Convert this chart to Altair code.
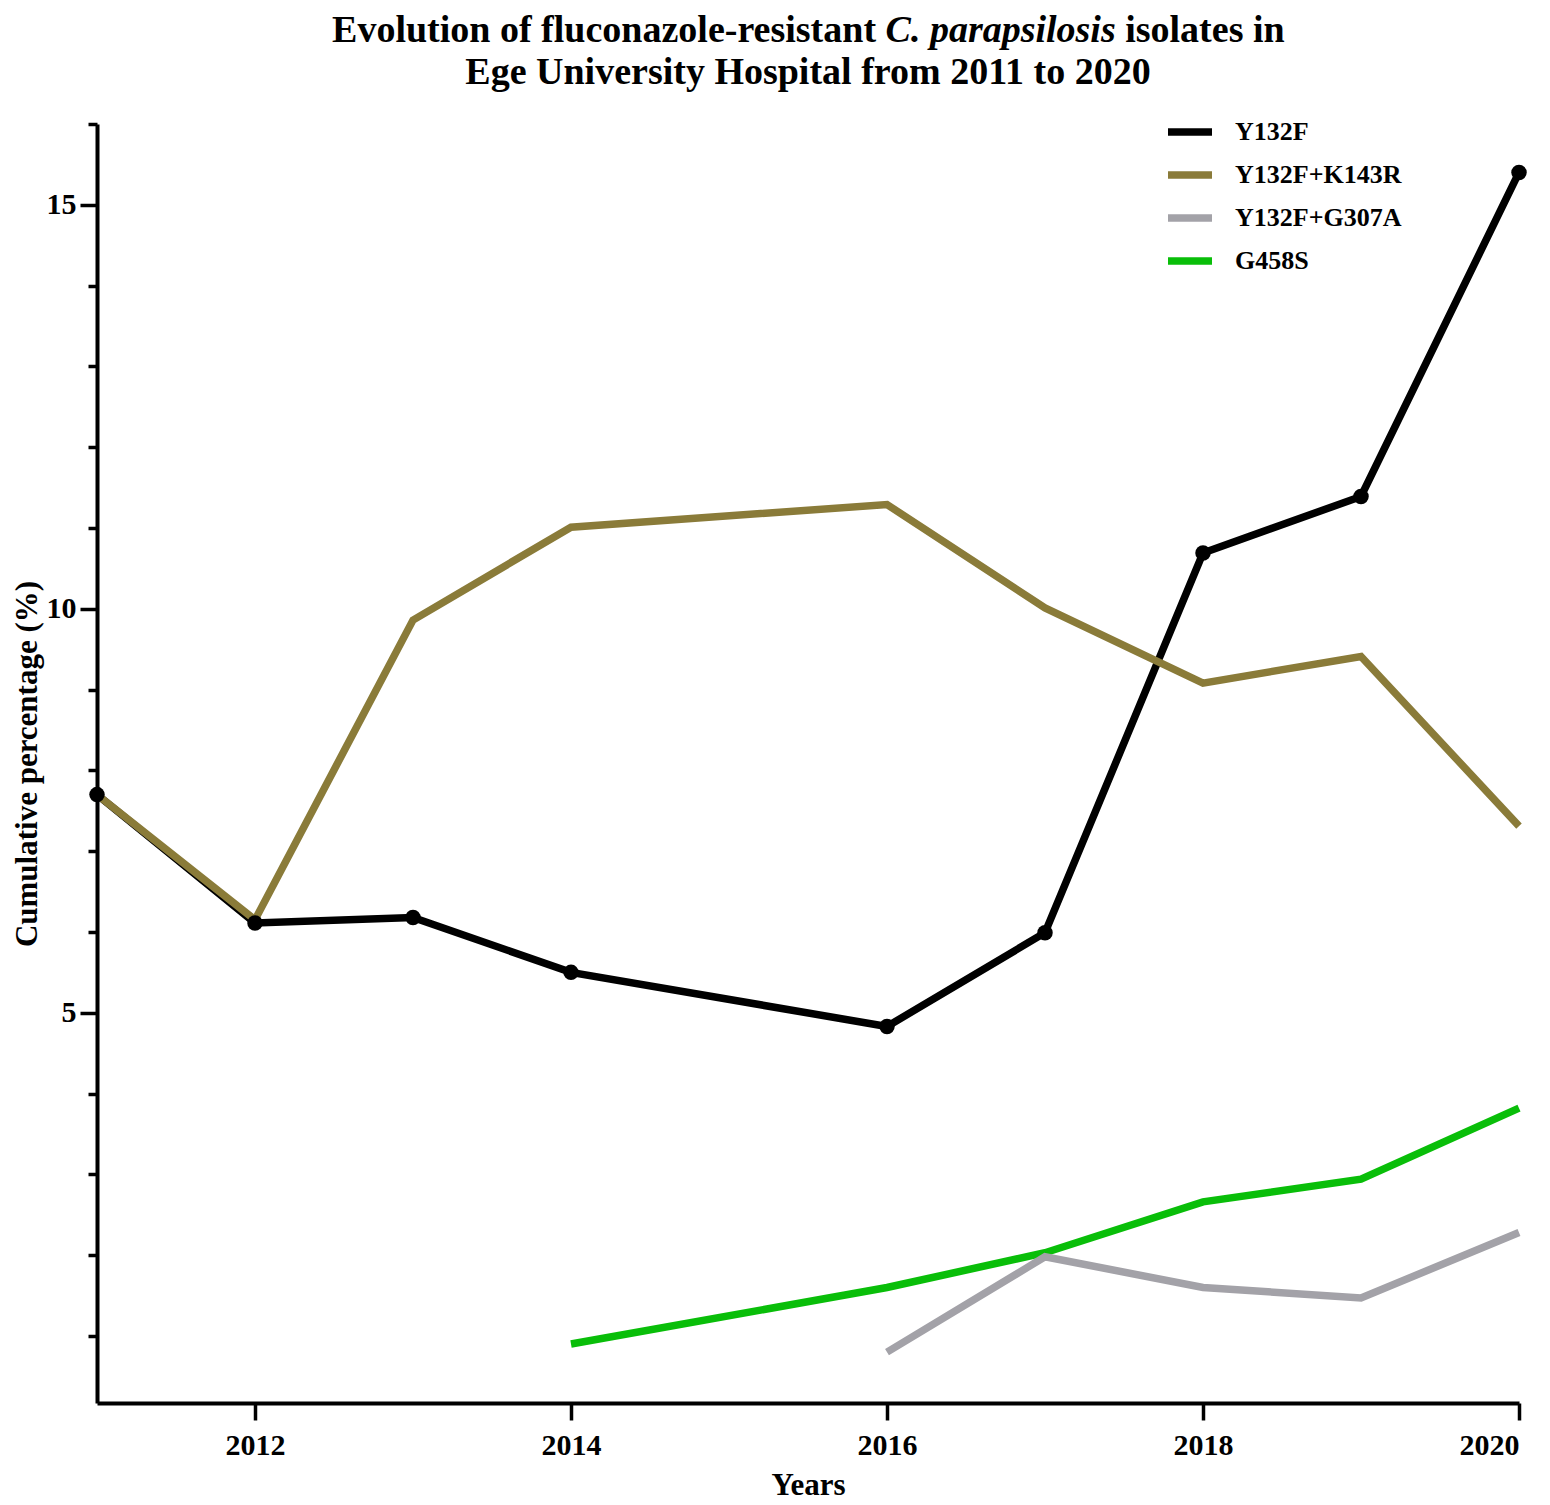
import altair as alt
import pandas as pd

years = [2011, 2012, 2013, 2014, 2016, 2017, 2018, 2019, 2020]
y132f = [7.70, 6.11, 6.18, 5.50, 4.83, 5.99, 10.69, 11.39, 15.40]
k143r = [7.70, 6.15, 9.86, 11.01, 11.29, 10.01, 9.08, 9.41, 7.31]
g307a_years = [2016, 2017, 2018, 2019, 2020]
g307a = [0.80, 1.98, 1.60, 1.47, 2.28]
g458s_years = [2014, 2016, 2017, 2018, 2019, 2020]
g458s = [0.90, 1.60, 2.03, 2.66, 2.94, 3.82]

series_names = ["Y132F", "Y132F+K143R", "Y132F+G307A", "G458S"]
series_colors = ["#000000", "#8A7B39", "#A3A2A8", "#09BE09"]
x_ticks = [2012, 2014, 2016, 2018, 2020]
y_ticks = list(range(1, 17))

rows = []
for yr, v in zip(years, y132f):
    rows.append({"year": yr, "value": v, "series": "Y132F"})
for yr, v in zip(years, k143r):
    rows.append({"year": yr, "value": v, "series": "Y132F+K143R"})
for yr, v in zip(g307a_years, g307a):
    rows.append({"year": yr, "value": v, "series": "Y132F+G307A"})
for yr, v in zip(g458s_years, g458s):
    rows.append({"year": yr, "value": v, "series": "G458S"})
df = pd.DataFrame(rows)

W, H = 1422, 1279
FONT = "Liberation Serif"

x_enc = alt.X(
    "year:Q",
    scale=alt.Scale(domain=[2011, 2020], nice=False, zero=False),
    axis=alt.Axis(
        values=x_ticks, format="d", title="Years",
        labelFontSize=30, titleFontSize=31, labelPadding=10, titlePadding=10,
        tickSize=17,
    ),
)
y_enc = alt.Y(
    "value:Q",
    scale=alt.Scale(domain=[0.17, 16], nice=False, zero=False),
    axis=alt.Axis(
        values=y_ticks,
        labelExpr="datum.value % 5 === 0 ? datum.label : ''",
        tickSize={"condition": {"test": "datum.value % 5 === 0", "value": 17}, "value": 9},
        title="Cumulative percentage (%)",
        labelFontSize=30, titleFontSize=31, labelPadding=4, titlePadding=3,
    ),
)
color_enc = alt.Color(
    "series:N",
    scale=alt.Scale(domain=series_names, range=series_colors),
    legend=alt.Legend(
        title=None, orient="none", legendX=1067, legendY=-18,
        symbolType="stroke", symbolSize=1936, symbolStrokeWidth=7.5,
        labelFontSize=26, labelFont=FONT, labelFontWeight="bold",
        labelOffset=19, rowPadding=2, padding=0, labelLimit=400,
    ),
)

base = alt.Chart(df)
draw_order = ["Y132F", "Y132F+K143R", "G458S", "Y132F+G307A"]
layers = []
for s in draw_order:
    layers.append(
        base.transform_filter(alt.datum.series == s)
        .mark_line(strokeWidth=7.5, strokeCap="butt", strokeJoin="miter")
        .encode(x=x_enc, y=y_enc, color=color_enc)
    )
points = (
    base.transform_filter(alt.datum.series == "Y132F")
    .mark_point(filled=True, size=240, opacity=1)
    .encode(x=x_enc, y=y_enc, color=alt.value("black"))
)
layers.append(points)

# Title (two lines, species name in italics)
title_df = pd.DataFrame({"k": [0]})
fs = 38
em = fs / 1000.0
center = W / 2
line1_total = 25085 * em
start1 = center - line1_total / 2
ital_x = start1 + 14583 * em
ital_w = 6057 * em
space = 250 * em
y1, y2 = -82, -40
t = alt.Chart(title_df)
title_common = dict(font=FONT, fontSize=fs, fontWeight="bold", color="black", baseline="alphabetic")
layers.append(t.mark_text(align="right", **title_common).encode(
    x=alt.value(ital_x - space), y=alt.value(y1), text=alt.value("Evolution of fluconazole-resistant")))
layers.append(t.mark_text(align="left", fontStyle="italic", **title_common).encode(
    x=alt.value(ital_x), y=alt.value(y1), text=alt.value("C. parapsilosis")))
layers.append(t.mark_text(align="left", **title_common).encode(
    x=alt.value(ital_x + ital_w + space), y=alt.value(y1), text=alt.value("isolates in")))
layers.append(t.mark_text(align="center", **title_common).encode(
    x=alt.value(center), y=alt.value(y2), text=alt.value("Ege University Hospital from 2011 to 2020")))

chart = (
    alt.layer(*layers)
    .properties(
        width=W, height=H,
        autosize=alt.AutoSizeParams(type="none"),
        padding={"left": 89, "top": 116, "right": 20, "bottom": 100},
        background="white",
    )
    .configure_view(stroke=None)
    .configure_axis(
        domainColor="black", domainWidth=4, tickColor="black", tickWidth=3.5,
        grid=False, labelFont=FONT, titleFont=FONT, labelFontWeight="bold",
        titleFontWeight="bold", labelColor="black", titleColor="black",
    )
)

chart.save("out.html", embed_options={"renderer": "svg", "actions": False})
